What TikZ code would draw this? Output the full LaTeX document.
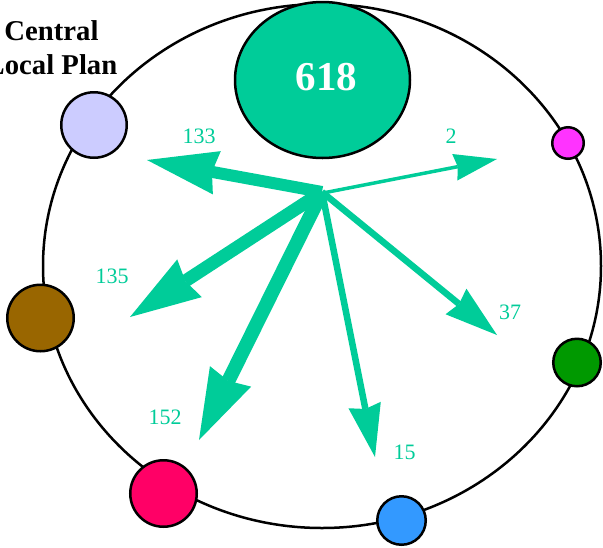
\documentclass[tikz,border=0pt]{standalone}
\usepackage{fontspec}
\setmainfont{Liberation Serif}
\usetikzlibrary{arrows.meta,shapes.geometric}
\definecolor{flow}{HTML}{00CC99}
\definecolor{lavender}{HTML}{CCCCFF}
\definecolor{bronze}{HTML}{996600}
\definecolor{rose}{HTML}{FF0066}
\definecolor{sky}{HTML}{3399FF}
\definecolor{leaf}{HTML}{009900}
\definecolor{orchid}{HTML}{FF33FF}
\begin{document}
\begin{tikzpicture}[x=1pt,y=-1pt,
  member/.style={circle,draw=black,line width=2.5pt,inner sep=0pt},
  flowline/.style={draw=flow,line width=#1,line cap=butt},
  count/.style={text=flow,font=\fontsize{22}{22}\selectfont,inner sep=0pt},
  title/.style={font=\fontsize{28.7}{34}\selectfont\bfseries,inner sep=0pt,anchor=base}]
\useasboundingbox (0,0) rectangle (603,547);

% ring that the members sit on
\draw[line width=2.5pt] (322,266) ellipse [x radius=279, y radius=262];

% members on the ring
\node[member,fill=lavender,minimum size=65.5pt] (plan)   at (94,125)    {};
\node[member,fill=bronze,  minimum size=66.5pt] (brown)  at (40.5,318)  {};
\node[member,fill=rose,    minimum size=66.5pt] (red)    at (163.5,493.5) {};
\node[member,fill=sky,     minimum size=48.5pt] (blue)   at (401.5,520.5) {};
\node[member,fill=leaf,    minimum size=47.5pt] (green)  at (577,362.5) {};
\node[member,fill=orchid,  minimum size=31.5pt] (pink)   at (568,143)   {};

% title of the highlighted member
\node[title] (titleA) at (51.5,40) {Central};
\node[title] (titleB) at (51.5,74) {Local Plan};

% central total
\node[ellipse,draw=black,line width=2.5pt,fill=flow,inner sep=0pt,
      minimum width=175pt,minimum height=156pt,
      label={[text=white,font=\fontsize{41}{41}\selectfont\bfseries,
              inner sep=0pt,xshift=4pt,yshift=2.5pt]center:618}] (total) at (322.5,80) {};

% flows out of the hub
\coordinate (hub)  at (322,192);
\coordinate (t133) at (147,160);
\coordinate (t2)   at (497,159);
\coordinate (t135) at (130,317);
\coordinate (t152) at (199,440);
\coordinate (t15)  at (375,457);
\coordinate (t37)  at (497,335);

\draw[flowline=12pt,-{Stealth[length=71pt,width=44pt,inset=5pt,line width=0pt]}] (hub) -- (t133);
\draw[flowline=13pt,-{Stealth[length=71pt,width=45pt,inset=5pt,line width=0pt]}] (hub) -- (t135);
\draw[flowline=14pt,-{Stealth[length=71pt,width=46pt,inset=5pt,line width=0pt]}] (hub) -- (t152);
\draw[flowline=6.5pt,-{Stealth[length=53pt,width=33pt,inset=4pt,line width=0pt]}] (hub) -- (t15);
\draw[flowline=6.5pt,-{Stealth[length=53pt,width=33pt,inset=4pt,line width=0pt]}] (hub) -- (t37);
\draw[flowline=3.5pt,-{Stealth[length=43pt,width=27pt,inset=3pt,line width=0pt]}] ([yshift=-1pt,xshift=1pt]hub) -- (t2);

% flow counts
\node[count] (c133) at (199,136)   {133};
\node[count] (c2)   at (451,136)   {2};
\node[count] (c135) at (112,276)   {135};
\node[count] (c152) at (165,417.5) {152};
\node[count] (c37)  at (510,312)   {37};
\node[count] (c15)  at (404.5,452) {15};
\end{tikzpicture}
\end{document}
